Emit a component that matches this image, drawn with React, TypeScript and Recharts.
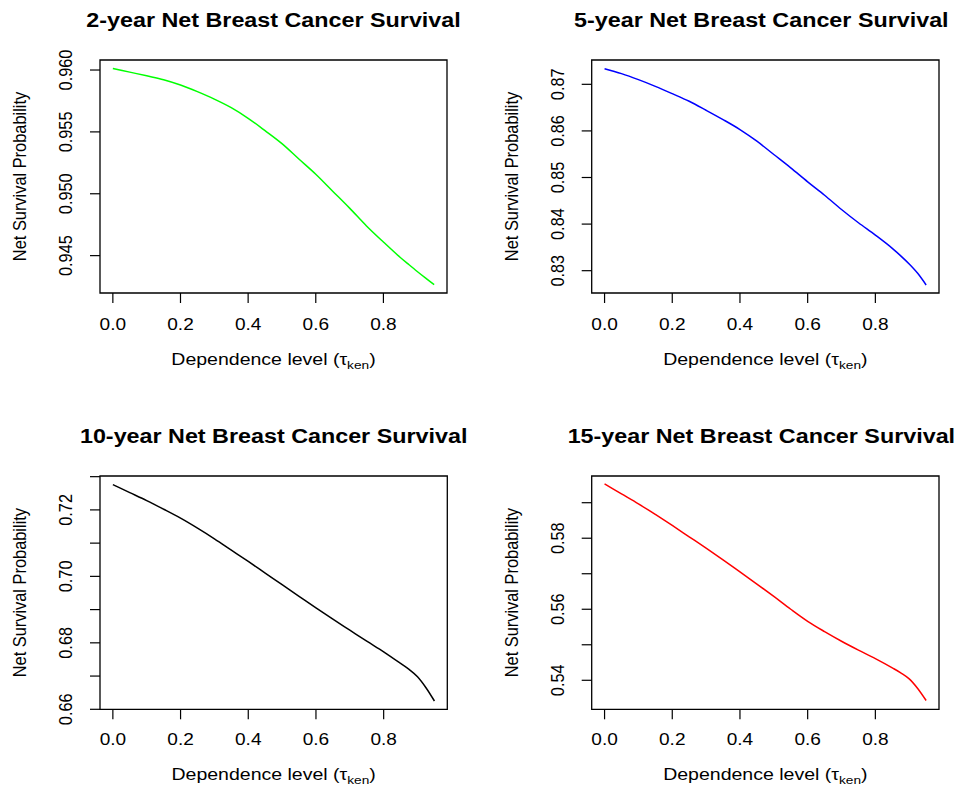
import React from "react";
import { LineChart, Line, XAxis, YAxis, ReferenceArea } from "recharts";

// dependence level (Kendall's tau) at which the net survival was read
const tau = [
  0, 0.05, 0.1, 0.15, 0.2, 0.25, 0.3, 0.35, 0.4, 0.45, 0.5, 0.55, 0.6, 0.65,
  0.7, 0.75, 0.8, 0.85, 0.875, 0.9, 0.925, 0.95
];

const surv2y = [
  0.96013, 0.95983, 0.95953, 0.95922, 0.95879, 0.95825, 0.95765, 0.95696,
  0.9561, 0.9551, 0.95405, 0.95281, 0.95158, 0.95021, 0.94884, 0.9474,
  0.9461, 0.94485, 0.94428, 0.94372, 0.94318, 0.94266
];
const surv5y = [
  0.87336, 0.87229, 0.871, 0.86957, 0.868, 0.86636, 0.86443, 0.86243,
  0.86029, 0.85779, 0.85493, 0.85207, 0.84907, 0.8462, 0.84314, 0.84029,
  0.83764, 0.83479, 0.83318, 0.83143, 0.82943, 0.82693
];
const surv10y = [
  0.7276, 0.7252, 0.7228, 0.7202, 0.7175, 0.7145, 0.7113, 0.7079, 0.7045,
  0.701, 0.6975, 0.694, 0.6905, 0.6871, 0.6838, 0.6805, 0.6773, 0.6738,
  0.672, 0.6698, 0.6665, 0.6625
];
const surv15y = [
  0.5953, 0.5925, 0.5897, 0.5867, 0.5836, 0.5804, 0.5772, 0.5739, 0.5705,
  0.5671, 0.5636, 0.56, 0.5566, 0.5537, 0.551, 0.5485, 0.5461, 0.5435,
  0.5421, 0.5404, 0.5377, 0.5343
];

const xTicks = [0, 0.2, 0.4, 0.6, 0.8];
const xDomain = [-0.038, 0.988];

const yTicks2 = [0.945, 0.95, 0.955, 0.96];
const yTicks5 = [0.83, 0.84, 0.85, 0.86, 0.87];
const yTicks10 = [0.66, 0.67, 0.68, 0.69, 0.7, 0.71, 0.72, 0.73];
const yLabels10 = [0.66, 0.68, 0.7, 0.72];
const yTicks15 = [0.54, 0.55, 0.56, 0.57, 0.58, 0.59];
const yLabels15 = [0.54, 0.56, 0.58];

const FONT = "'Liberation Sans', Arial, Helvetica, sans-serif";
const SX = 1.17; // the reference is stretched sideways a little
const W = 479;
const H = 395;

function XTick({ x, y, payload }: any) {
  return (
    <text
      transform={`translate(${x},${y}) scale(${SX},1)`}
      textAnchor="middle"
      fontSize={16.3}
      fontFamily={FONT}
      fill="#000"
    >
      {Number(payload.value).toFixed(1)}
    </text>
  );
}

function makeYTick(labels: number[], digits: number) {
  return ({ x, y, payload }: any) => {
    const v = Number(payload.value);
    if (!labels.some(l => Math.abs(l - v) < 1e-9)) return <g />;
    return (
      <text
        transform={`translate(${x},${y}) scale(${SX},1) rotate(-90)`}
        textAnchor="middle"
        fontSize={16.3}
        fontFamily={FONT}
        fill="#000"
      >
        {v.toFixed(digits)}
      </text>
    );
  };
}

function Panel({
  title,
  color,
  values,
  yDomain,
  yTicks,
  yLabels,
  digits,
  left,
  top,
  box
}: {
  title: string;
  color: string;
  values: number[];
  yDomain: number[];
  yTicks: number[];
  yLabels: number[];
  digits: number;
  left: number;
  top: number;
  box: {
    l: number;
    t: number;
    r: number;
    b: number;
    xLab: number;
    xTitle: number;
    titleDx: number;
  };
}) {
  const data = tau.map((t, i) => ({ tau: t, v: values[i] }));
  const cx = (box.l + box.r) / 2;
  const cy = (box.t + box.b) / 2;

  return (
    <div style={{ position: "absolute", left, top, width: W, height: H }}>
      <LineChart
        width={W}
        height={H}
        data={data}
        margin={{ top: box.t, right: W - box.r, bottom: 0, left: 0 }}
      >
        <XAxis
          dataKey="tau"
          type="number"
          domain={xDomain}
          ticks={xTicks}
          interval={0}
          allowDataOverflow
          height={H - box.b}
          axisLine={false}
          tickLine={{ stroke: "#000", strokeWidth: 1.2 }}
          tickSize={10}
          tickMargin={box.xLab - 10}
          tick={<XTick />}
        />
        <YAxis
          type="number"
          domain={yDomain}
          ticks={yTicks}
          interval={0}
          allowDataOverflow
          width={box.l}
          axisLine={false}
          tickLine={{ stroke: "#000", strokeWidth: 1.2 }}
          tickSize={10}
          tickMargin={18}
          tick={makeYTick(yLabels, digits)}
        />
        <ReferenceArea
          x1={xDomain[0]}
          x2={xDomain[1]}
          y1={yDomain[0]}
          y2={yDomain[1]}
          fill="none"
          stroke="#000"
          strokeWidth={1.3}
          fillOpacity={0}
          ifOverflow="visible"
        />
        <Line
          type="monotone"
          dataKey="v"
          stroke={color}
          strokeWidth={1.5}
          dot={false}
          isAnimationActive={false}
        />
      </LineChart>
      <svg
        width={W}
        height={H}
        style={{ position: "absolute", left: 0, top: 0, pointerEvents: "none" }}
      >
        <text
          transform={`translate(${cx + box.titleDx},${box.t - 33.5}) scale(1.19,1)`}
          textAnchor="middle"
          fontSize={19.6}
          fontWeight="bold"
          fontFamily={FONT}
          fill="#000"
        >
          {title}
        </text>
        <text
          transform={`translate(${box.l - 74},${cy}) scale(${SX},1) rotate(-90)`}
          textAnchor="middle"
          fontSize={16.4}
          fontFamily={FONT}
          fill="#000"
        >
          Net Survival Probability
        </text>
        <text
          transform={`translate(${cx},${box.xTitle}) scale(1.19,1)`}
          textAnchor="middle"
          fontSize={16.4}
          fontFamily={FONT}
          fill="#000"
        >
          <tspan>Dependence level (τ</tspan>
          <tspan dy={4} fontSize={11.5}>ken</tspan>
          <tspan dy={-4}>)</tspan>
        </text>
      </svg>
    </div>
  );
}

export default function App() {
  return (
    <div
      style={{
        position: "absolute",
        left: 0,
        top: 0,
        width: 958,
        height: 790,
        background: "#fff"
      }}
    >
      <Panel
        title="2-year Net Breast Cancer Survival"
        color="#00ff00"
        values={surv2y}
        yDomain={[0.94198, 0.96081]}
        yTicks={yTicks2}
        yLabels={yTicks2}
        digits={3}
        left={0}
        top={0}
        box={{ l: 100, t: 60, r: 447, b: 293, xLab: 37, xTitle: 365, titleDx: 0 }}
      />
      <Panel
        title="5-year Net Breast Cancer Survival"
        color="#0000ff"
        values={surv5y}
        yDomain={[0.82521, 0.87522]}
        yTicks={yTicks5}
        yLabels={yTicks5}
        digits={2}
        left={479}
        top={0}
        box={{ l: 112.7, t: 60, r: 460, b: 293, xLab: 37, xTitle: 365, titleDx: -4 }}
      />
      <Panel
        title="10-year Net Breast Cancer Survival"
        color="#000000"
        values={surv10y}
        yDomain={[0.66, 0.7302]}
        yTicks={yTicks10}
        yLabels={yLabels10}
        digits={2}
        left={0}
        top={395}
        box={{ l: 100, t: 81, r: 447.3, b: 314.3, xLab: 36, xTitle: 385, titleDx: 0 }}
      />
      <Panel
        title="15-year Net Breast Cancer Survival"
        color="#ff0000"
        values={surv15y}
        yDomain={[0.53183, 0.59752]}
        yTicks={yTicks15}
        yLabels={yLabels15}
        digits={2}
        left={479}
        top={395}
        box={{ l: 112.7, t: 81, r: 460, b: 314.3, xLab: 36, xTitle: 385, titleDx: -4 }}
      />
    </div>
  );
}
